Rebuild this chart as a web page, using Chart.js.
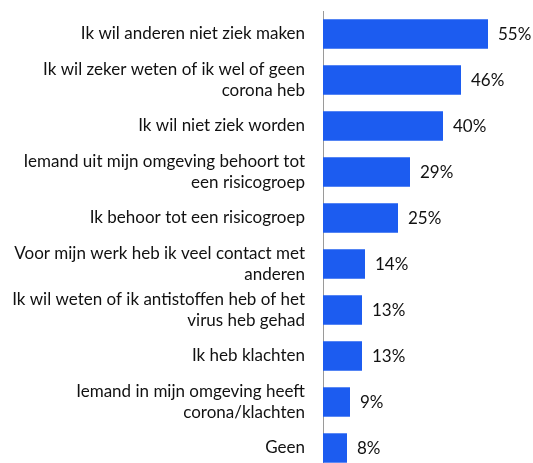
<!DOCTYPE html>
<html>
<head>
<meta charset="utf-8">
<script src="https://cdn.jsdelivr.net/npm/chart.js@4/dist/chart.umd.min.js"></script>
<style>
  html, body { margin:0; padding:0; background:#fff; overflow:hidden; }
  #wrap { position:relative; width:533px; height:476px; }
</style>
</head>
<body>
<div id="wrap"><canvas id="reasons"></canvas></div>
<script>
  // reasons (multi-line labels as arrays) and share of respondents in %
  const reasonLabels = [
    ["Ik wil anderen niet ziek maken"],
    ["Ik wil zeker weten of ik wel of geen", "corona heb"],
    ["Ik wil niet ziek worden"],
    ["Iemand uit mijn omgeving behoort tot", "een risicogroep"],
    ["Ik behoor tot een risicogroep"],
    ["Voor mijn werk heb ik veel contact met", "anderen"],
    ["Ik wil weten of ik antistoffen heb of het", "virus heb gehad"],
    ["Ik heb klachten"],
    ["Iemand in mijn omgeving heeft", "corona/klachten"],
    ["Geen"]
  ];
  const reasonValues = [55, 46, 40, 29, 25, 14, 13, 13, 9, 8];

  const FONT = "Lato, 'Open Sans', sans-serif";

  // prints "NN%" just right of each bar
  const valueLabels = {
    id: "valueLabels",
    afterDatasetsDraw(chart){
      const ctx = chart.ctx;
      const meta = chart.getDatasetMeta(0);
      ctx.save();
      ctx.font = "17px " + FONT;
      ctx.fillStyle = "#111";
      ctx.textAlign = "left";
      ctx.textBaseline = "middle";
      meta.data.forEach((bar, i) => {
        ctx.fillText(reasonValues[i] + "%", bar.x + 10, bar.y + 1);
      });
      ctx.restore();
    }
  };

  new Chart(document.getElementById("reasons"), {
    type: "bar",
    data: {
      labels: reasonLabels,
      datasets: [{
        data: reasonValues,
        backgroundColor: "#1c5cf0",
        borderWidth: 0,
        barPercentage: 0.64,
        categoryPercentage: 1
      }]
    },
    options: {
      indexAxis: "y",
      responsive: true,
      maintainAspectRatio: false,
      animation: false,
      layout: { padding: { top: 11, right: 0, bottom: 5, left: 0 } },
      plugins: { legend: { display: false }, tooltip: { enabled: false } },
      scales: {
        x: {
          min: 0, max: 70,
          display: false
        },
        y: {
          grid: { display: false, drawTicks: false },
          border: { display: true, color: "#9a9a9a", width: 1 },
          // fixed label column, no extra room for the first/last label
          afterFit(scale){
            scale.width = 323;
            scale.paddingTop = 0;
            scale.paddingBottom = 0;
          },
          ticks: {
            color: "#111",
            padding: 18,
            font: { family: FONT, size: 17, lineHeight: 1.26 }
          }
        }
      }
    },
    plugins: [valueLabels]
  });
</script>
</body>
</html>
